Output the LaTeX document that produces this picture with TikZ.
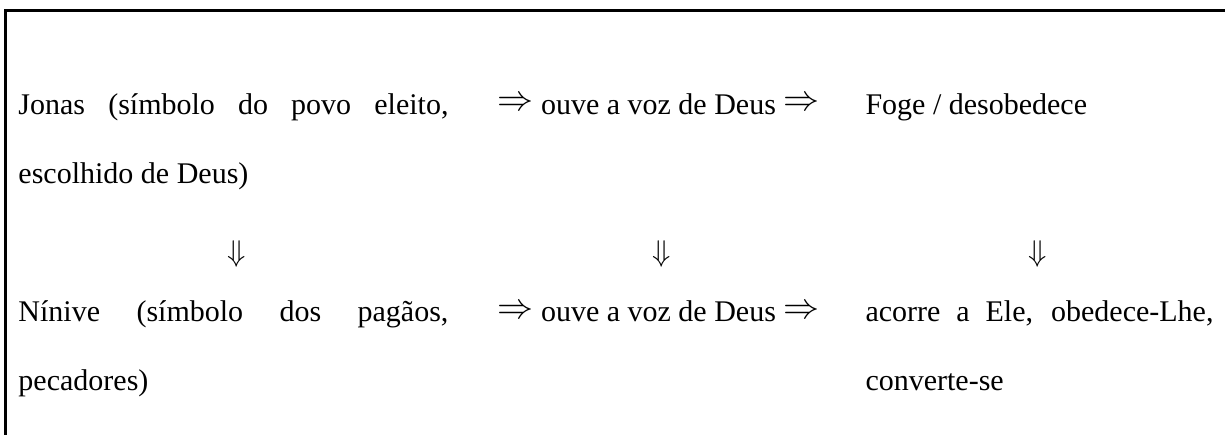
\documentclass[tikz,border=0pt]{standalone}
\usepackage{fontspec}
\setmainfont{Liberation Serif}
\usetikzlibrary{positioning}
\hyphenpenalty=10000
\tolerance=9999
\newcommand{\thenArrow}{\raisebox{1.2pt}{\fontsize{14.4pt}{14.4pt}\selectfont$\Rightarrow$}}

\begin{document}
\begin{tikzpicture}[
    x=1pt, y=1pt,
    cellText/.style={inner sep=0pt, anchor=base west, font=\fontsize{12pt}{27.6pt}\selectfont},
    leftCell/.style={cellText, align=justify, text width=172pt},
    rightCell/.style={cellText, align=justify, text width=139.2pt},
    downArrow/.style={inner sep=0pt, font=\fontsize{12pt}{14pt}\selectfont}
]
    \useasboundingbox (0,0) rectangle (490,-174);
    \clip (0,0) rectangle (490,-174);
    \draw[line width=1.2pt] (2,-4) rectangle (520,-200);

    % upper row
    \node[leftCell] (jonas) at (7.2,-45.6) {Jonas (símbolo do povo eleito, escolhido de Deus)};
    \node[cellText] (hearTop) at (198.8,-45.6) {\thenArrow{} ouve a voz de Deus \thenArrow};
    \node[cellText] (flees) at (346,-45.6) {Foge / desobedece};

    % arrows between the rows
    \node[downArrow] (downLeft) at (94.8,-101.6) {$\Downarrow$};
    \node[downArrow] (downMid) at (264.8,-101.6) {$\Downarrow$};
    \node[downArrow] (downRight) at (415.2,-101.6) {$\Downarrow$};

    % lower row
    \node[leftCell] (ninive) at (7.2,-128.4) {Nínive (símbolo dos pagãos, pecadores)};
    \node[cellText] (hearBottom) at (198.8,-128.4) {\thenArrow{} ouve a voz de Deus \thenArrow};
    \node[rightCell] (obeys) at (346,-128.4) {acorre a Ele, obedece-Lhe, converte-se};
\end{tikzpicture}
\end{document}
